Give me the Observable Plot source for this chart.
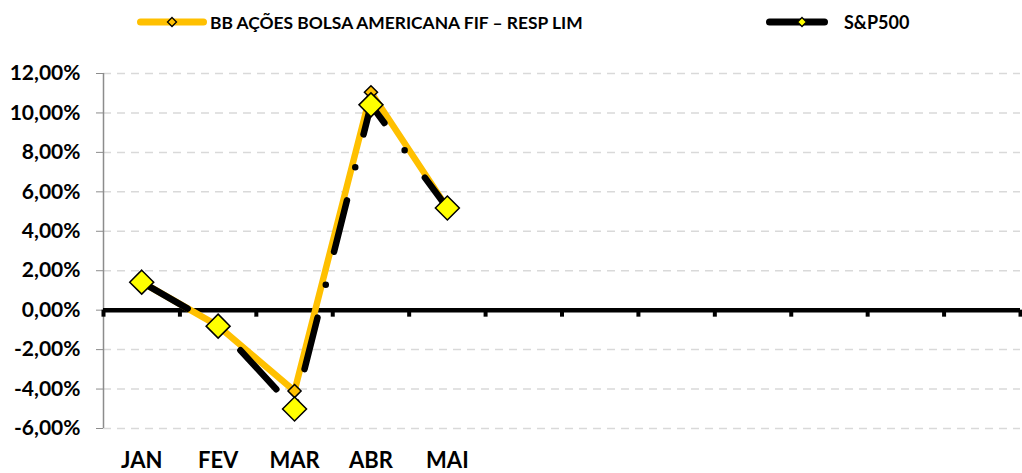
<!DOCTYPE html>
<html><head><meta charset="utf-8">
<script src="https://cdn.jsdelivr.net/npm/d3@7"></script>
<script src="https://cdn.jsdelivr.net/npm/@observablehq/plot@0.6"></script>
<style>
body{margin:0;background:#fff;font-family:Lato, sans-serif;}
#legend{position:relative;height:44px;width:1022px;}
.item{position:absolute;top:0;height:44px;display:flex;align-items:center;font-weight:700;font-size:18px;color:#000;white-space:nowrap;}
.item svg{display:block;}
</style></head><body>
<div id="legend"></div>
<div id="chart"></div>
<script>
const months = ["JAN","FEV","MAR","ABR","MAI"];
const slotCount = 12;
const bbValues = [1.42, -0.80, -4.10, 11.05, 5.18];
const spValues = [1.42, -0.81, -5.01, 10.41, 5.18];
const yTicks = [-6, -4, -2, 0, 2, 4, 6, 8, 10, 12];
const seriesNames = ["BB AÇÕES BOLSA AMERICANA FIF – RESP LIM", "S&P500"];
const orange = "#FFC000", yellow = "#FFFF00";

// legend
const legend = document.getElementById("legend");
function addItem(left, swW, diamondX, lineColor, markFill, text, gap, fontSize){
  const div = document.createElement("div");
  div.className = "item";
  div.style.left = left + "px";
  div.style.fontSize = fontSize + "px";
  const ns = "http://www.w3.org/2000/svg";
  const svg = document.createElementNS(ns, "svg");
  svg.setAttribute("width", swW); svg.setAttribute("height", 14);
  const ln = document.createElementNS(ns, "line");
  ln.setAttribute("x1", 3.5); ln.setAttribute("x2", swW - 3.5);
  ln.setAttribute("y1", 7); ln.setAttribute("y2", 7);
  ln.setAttribute("stroke", lineColor); ln.setAttribute("stroke-width", 7);
  ln.setAttribute("stroke-linecap", "round");
  svg.appendChild(ln);
  const d = 4.5;
  const p = document.createElementNS(ns, "path");
  p.setAttribute("d", `M${diamondX},${7-d}L${diamondX+d},7L${diamondX},${7+d}L${diamondX-d},7Z`);
  p.setAttribute("fill", markFill); p.setAttribute("stroke", "#000"); p.setAttribute("stroke-width", 1.3);
  svg.appendChild(p);
  div.appendChild(svg);
  const span = document.createElement("span");
  span.textContent = text;
  span.style.marginLeft = gap + "px";
  div.appendChild(span);
  legend.appendChild(div);
}
addItem(137, 70, 35, orange, orange, seriesNames[0], 3, 17.4);
addItem(766, 62, 36, "#000", yellow, seriesNames[1], 16, 18);

const W = 1022, H = 429, mL = 103, mR = 2, mT = 29, mB = 45;
const pxPerUnit = (H - mT - mB) / (yTicks[yTicks.length - 1] - yTicks[0]);
const bounds = d3.range(slotCount + 1).map(i => i - 0.5);
const bb = months.map((m, i) => ({i, m, v: bbValues[i]}));
const sp = months.map((m, i) => ({i, m, v: spValues[i]}));
const fmt = d => d.toFixed(2).replace(".", ",") + "%";

const plot = Plot.plot({
  width: W, height: H, marginLeft: mL, marginRight: mR, marginTop: mT, marginBottom: mB,
  style: {fontFamily: "Lato", fontWeight: 700, color: "#000", background: "#fff", overflow: "visible"},
  x: {type: "linear", domain: [-0.5, slotCount - 0.5]},
  y: {domain: [yTicks[0], yTicks[yTicks.length - 1]]},
  marks: [
    Plot.ruleY(yTicks.filter(d => d !== 0), {stroke: "#d9d9d9", strokeWidth: 1.5, strokeDasharray: "8,6"}),
    Plot.ruleX([-0.5], {y1: yTicks[0], y2: yTicks[yTicks.length - 1], stroke: "#8c8c8c", strokeWidth: 1.5}),
    Plot.axisY({ticks: yTicks, tickSize: 7, tickPadding: 16, tickFormat: fmt, stroke: "#8c8c8c", fill: "#000", fontSize: 21, label: null}),
    Plot.axisX({ticks: months.map((m, i) => i), tickFormat: i => months[i], tickSize: 0, tickPadding: 24, fontSize: 22, fill: "#000", label: null}),
    Plot.ruleX(bounds, {y1: 0, y2: -7 / pxPerUnit, stroke: "#000", strokeWidth: 4}),
    Plot.ruleY([0], {stroke: "#000", strokeWidth: 4.5}),
    Plot.line(bb, {x: "i", y: "v", stroke: orange, strokeWidth: 6.5, strokeLinejoin: "round", strokeLinecap: "round"}),
    Plot.dot(bb, {x: "i", y: "v", symbol: "diamond2", r: 5.9, fill: orange, stroke: "#000", strokeWidth: 1.5}),
    Plot.line(sp, {x: "i", y: "v", stroke: "#000", strokeWidth: 6.5, strokeDasharray: "53,34,0,34", strokeLinecap: "round", strokeLinejoin: "round"}),
    Plot.dot(sp, {x: "i", y: "v", symbol: "diamond2", r: 10.8, fill: yellow, stroke: "#000", strokeWidth: 1.5})
  ]
});
document.getElementById("chart").appendChild(plot);
</script>
</body></html>
